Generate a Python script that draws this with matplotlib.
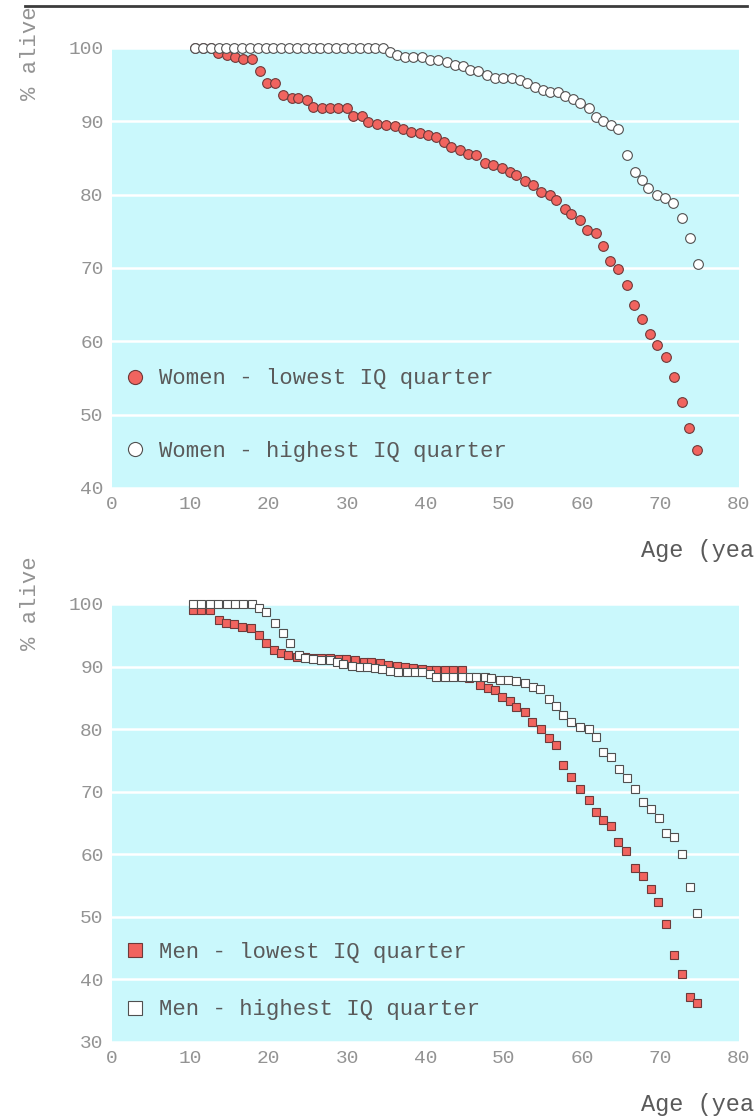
import matplotlib
matplotlib.use("Agg")
import matplotlib.pyplot as plt
from matplotlib.lines import Line2D

# ---------------- data ----------------
x_ticks = [0, 10, 20, 30, 40, 50, 60, 70, 80]
y_ticks_women = [40, 50, 60, 70, 80, 90, 100]
y_ticks_men = [30, 40, 50, 60, 70, 80, 90, 100]

women_low_age = [10.6, 11.6, 12.6, 13.5, 14.7, 15.7, 16.7, 17.9, 18.9, 19.8, 20.8, 21.8,
                 23.0, 23.7, 24.9, 25.6, 26.8, 27.8, 28.8, 30.0, 30.7, 31.9, 32.7, 33.8,
                 35.0, 36.1, 37.1, 38.2, 39.3, 40.3, 41.4, 42.3, 43.3, 44.4, 45.4, 46.5,
                 47.6, 48.6, 49.7, 50.8, 51.6, 52.7, 53.7, 54.8, 55.9, 56.7, 57.8, 58.6,
                 59.7, 60.6, 61.7, 62.6, 63.6, 64.5, 65.7, 66.6, 67.6, 68.6, 69.6, 70.7,
                 71.7, 72.7, 73.6, 74.6]
women_low_alive = [100, 100, 100, 99.3, 99.0, 98.8, 98.5, 98.5, 96.9, 95.2, 95.2, 93.6,
                   93.2, 93.2, 92.9, 92.0, 91.8, 91.8, 91.8, 91.8, 90.7, 90.7, 89.9, 89.6,
                   89.5, 89.3, 89.0, 88.6, 88.4, 88.1, 87.9, 87.2, 86.5, 86.1, 85.6, 85.4,
                   84.3, 84.0, 83.6, 83.1, 82.7, 81.8, 81.3, 80.4, 79.9, 79.3, 78.1, 77.4,
                   76.5, 75.2, 74.8, 73.0, 71.0, 69.8, 67.7, 64.9, 63.1, 61.0, 59.5, 57.8,
                   55.2, 51.7, 48.2, 45.2]

women_high_age = [10.6, 11.6, 12.6, 13.6, 14.6, 15.6, 16.6, 17.6, 18.6, 19.6, 20.6, 21.6,
                  22.6, 23.6, 24.6, 25.6, 26.6, 27.6, 28.6, 29.6, 30.6, 31.6, 32.6, 33.6,
                  34.6, 35.5, 36.3, 37.4, 38.4, 39.5, 40.6, 41.6, 42.7, 43.8, 44.8, 45.7,
                  46.7, 47.8, 48.9, 49.9, 51.0, 52.0, 52.9, 54.0, 55.0, 55.9, 56.9, 57.8,
                  58.8, 59.7, 60.8, 61.8, 62.7, 63.7, 64.6, 65.7, 66.7, 67.6, 68.4, 69.5,
                  70.5, 71.6, 72.7, 73.7, 74.8]
women_high_alive = [100, 100, 100, 100, 100, 100, 100, 100, 100, 100, 100, 100,
                    100, 100, 100, 100, 100, 100, 100, 100, 100, 100, 100, 100,
                    100, 99.5, 99.0, 98.8, 98.8, 98.8, 98.4, 98.4, 98.1, 97.7, 97.5, 97.0,
                    96.8, 96.3, 95.9, 95.9, 95.9, 95.6, 95.2, 94.7, 94.3, 94.0, 94.0, 93.4,
                    93.1, 92.5, 91.8, 90.6, 90.0, 89.5, 89.0, 85.4, 83.1, 82.0, 80.9, 80.0,
                    79.5, 78.8, 76.8, 74.1, 70.6]

men_low_age = [10.3, 11.4, 12.5, 13.6, 14.6, 15.6, 16.6, 17.7, 18.7, 19.6, 20.7, 21.6, 22.5,
               23.6, 24.6, 25.7, 26.7, 27.8, 28.9, 29.9, 31.0, 32.1, 33.1, 34.2,
               35.2, 36.3, 37.4, 38.4, 39.5, 40.6, 41.4, 42.5, 43.5, 44.6, 45.6,
               46.9, 48.0, 48.9, 49.7, 50.8, 51.6, 52.7, 53.6, 54.7, 55.7, 56.7,
               57.6, 58.6, 59.7, 60.8, 61.7, 62.7, 63.7, 64.6, 65.6, 66.7, 67.7, 68.8,
               69.7, 70.7, 71.7, 72.7, 73.7, 74.7]
men_low_alive = [99.0, 99.0, 99.0, 97.4, 97.0, 96.8, 96.4, 96.1, 95.0, 93.7, 92.6, 92.2, 91.8,
                 91.6, 91.5, 91.4, 91.3, 91.3, 91.2, 91.2, 91.0, 90.8, 90.7, 90.5,
                 90.3, 90.1, 90.0, 89.8, 89.6, 89.5, 89.5, 89.4, 89.4, 89.4, 88.2,
                 87.1, 86.5, 86.3, 85.2, 84.5, 83.6, 82.7, 81.2, 80.1, 78.6, 77.4,
                 74.2, 72.4, 70.4, 68.7, 66.8, 65.4, 64.6, 62.0, 60.5, 57.8, 56.6, 54.5,
                 52.3, 48.9, 43.9, 40.8, 37.2, 36.2]

men_high_age = [10.3, 11.4, 12.5, 13.5, 14.7, 15.7, 16.7, 17.9,
                18.7, 19.7, 20.8, 21.8, 22.7, 23.8, 24.6, 25.7, 26.7, 27.8,
                28.7, 29.5, 30.6, 31.6, 32.5, 33.5, 34.4, 35.5, 36.5, 37.6,
                38.6, 39.5, 40.6, 41.4, 42.5, 43.5, 44.6, 45.7, 46.5, 47.6,
                48.4, 49.5, 50.5, 51.6, 52.7, 53.7, 54.6, 55.7, 56.7, 57.6,
                58.6, 59.7, 60.8, 61.8, 62.7, 63.7, 64.7, 65.7, 66.7, 67.7,
                68.8, 69.8, 70.7, 71.7, 72.7, 73.7, 74.7]
men_high_alive = [100, 100, 100, 100, 100, 100, 100, 100,
                  99.3, 98.7, 96.9, 95.3, 93.8, 91.8, 91.4, 91.2, 91.1, 91.1,
                  90.8, 90.4, 90.1, 90.0, 89.9, 89.7, 89.6, 89.3, 89.2, 89.1,
                  89.1, 89.1, 88.8, 88.4, 88.3, 88.3, 88.3, 88.3, 88.3, 88.3,
                  88.1, 87.9, 87.9, 87.7, 87.3, 86.8, 86.4, 84.8, 83.7, 82.3,
                  81.2, 80.4, 80.1, 78.8, 76.4, 75.5, 73.6, 72.2, 70.5, 68.4,
                  67.2, 65.8, 63.4, 62.7, 60.0, 54.8, 50.6]

labels_women = ["Women - lowest IQ quarter", "Women - highest IQ quarter"]
labels_men = ["Men - lowest IQ quarter", "Men - highest IQ quarter"]

# ---------------- style ----------------
FONT = "Liberation Mono"
CYAN = "#CAF8FC"
RED = "#F1645F"
RED_EDGE = "#6E3A3A"
WHITE_EDGE = "#505050"
TICK_COL = "#939393"
TEXT_COL = "#5a5a5a"

W, H = 755, 1117
fig = plt.figure(figsize=(W / 100, H / 100), dpi=100)
fig.patch.set_facecolor("white")

ax1 = fig.add_axes([112 / W, 1 - 488 / H, 627 / W, 440 / H])
ax2 = fig.add_axes([112 / W, 1 - 1042 / H, 627 / W, 438 / H])


def style(ax, yticks):
    ax.set_facecolor(CYAN)
    ax.set_xlim(0, 80)
    ax.set_ylim(yticks[0], yticks[-1])
    ax.set_xticks(x_ticks)
    ax.set_yticks(yticks)
    for s in ax.spines.values():
        s.set_visible(False)
    ax.grid(axis="y", color="white", linewidth=1.8)
    ax.grid(axis="x", visible=False)
    ax.set_axisbelow(True)
    ax.tick_params(length=0, labelsize=14, labelcolor=TICK_COL, pad=6)
    for lab in ax.get_xticklabels() + ax.get_yticklabels():
        lab.set_fontfamily(FONT)


style(ax1, y_ticks_women)
style(ax2, y_ticks_men)

ax1.plot(women_low_age, women_low_alive, linestyle="none", marker="o", markersize=7.0,
         markerfacecolor=RED, markeredgecolor=RED_EDGE, markeredgewidth=0.8,
         clip_on=False, zorder=3, label=labels_women[0])
ax1.plot(women_high_age, women_high_alive, linestyle="none", marker="o", markersize=7.0,
         markerfacecolor="white", markeredgecolor=WHITE_EDGE, markeredgewidth=0.8,
         clip_on=False, zorder=4, label=labels_women[1])

ax2.plot(men_low_age, men_low_alive, linestyle="none", marker="s", markersize=6.3,
         markerfacecolor=RED, markeredgecolor=RED_EDGE, markeredgewidth=0.8,
         clip_on=False, zorder=3, label=labels_men[0])
ax2.plot(men_high_age, men_high_alive, linestyle="none", marker="s", markersize=6.3,
         markerfacecolor="white", markeredgecolor=WHITE_EDGE, markeredgewidth=0.8,
         clip_on=False, zorder=4, label=labels_men[1])

leg_font = {"family": FONT, "size": 16}
ax1.legend(loc="center left", bbox_to_anchor=(0.019, 0.166), frameon=False, prop=leg_font,
           handlelength=1.0, handletextpad=0.6, borderpad=0, borderaxespad=0,
           labelspacing=2.3, markerscale=1.45, numpoints=1, labelcolor=TEXT_COL)
ax2.legend(loc="center left", bbox_to_anchor=(0.019, 0.139), frameon=False, prop=leg_font,
           handlelength=1.0, handletextpad=0.6, borderpad=0, borderaxespad=0,
           labelspacing=1.65, markerscale=1.6, numpoints=1, labelcolor=TEXT_COL)

# axis titles (partly cut off by the image edges, as in the reference)
for ybot in (100, 650):
    fig.text(30 / W, 1 - ybot / H, "% alive", rotation=90, ha="center", va="bottom",
             fontsize=16, color=TICK_COL, family=FONT)
for yc in (550, 1105):
    fig.text(641 / W, 1 - yc / H, "Age (years)", ha="left", va="center",
             fontsize=17, color=TEXT_COL, family=FONT)

# dark rule along the top
fig.add_artist(Line2D([25 / W, 747 / W], [1 - 6 / H, 1 - 6 / H], color="#3c3c3c",
                      linewidth=2.0, zorder=10))

fig.savefig("out.png", dpi=100)
